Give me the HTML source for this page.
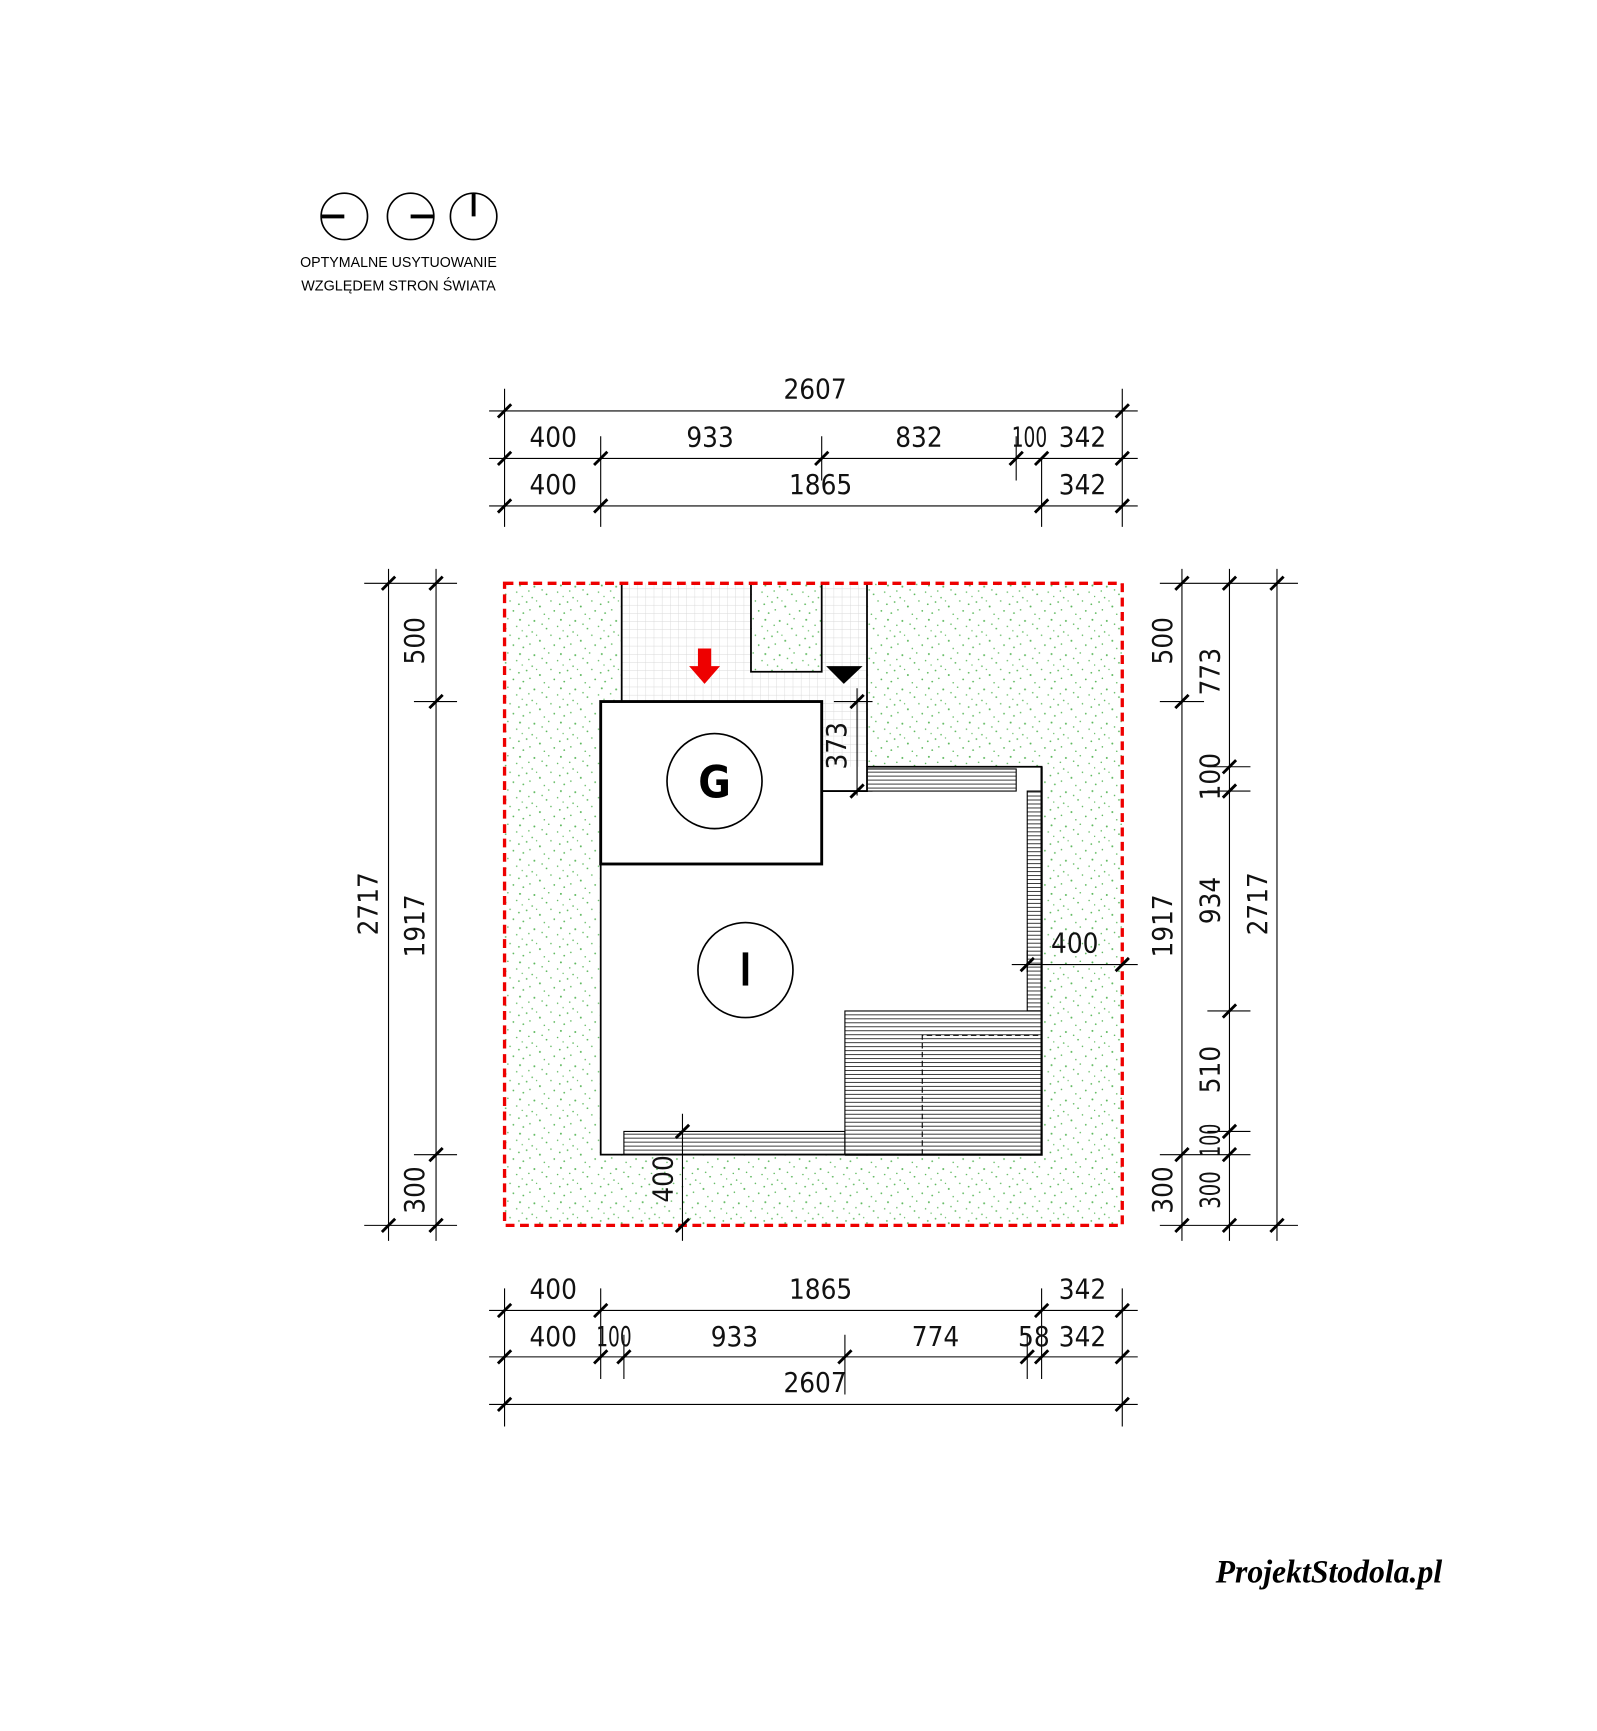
<!DOCTYPE html>
<html><head><meta charset="utf-8"><style>
html,body{margin:0;padding:0;background:#fff;}
svg{display:block;}
.d{font-family:"DejaVu Sans Condensed","Liberation Sans Narrow","Liberation Sans",sans-serif;font-size:25px;fill:#111;text-anchor:middle;}
</style></head><body>
<svg width="1597" height="1731" viewBox="0 0 1440 1561" preserveAspectRatio="none" xmlns="http://www.w3.org/2000/svg">
<defs>
<pattern id="sp" width="37" height="31" patternUnits="userSpaceOnUse">
<g fill="#5cb85c">
<circle cx="3" cy="4" r="0.9"/><circle cx="14" cy="11" r="0.8"/><circle cx="27" cy="3" r="0.9"/><circle cx="33" cy="18" r="0.8"/><circle cx="8" cy="22" r="0.9"/><circle cx="21" cy="26" r="0.8"/><circle cx="18" cy="17" r="0.7"/><circle cx="30" cy="28" r="0.8"/><circle cx="1" cy="14" r="0.7"/><circle cx="24" cy="9" r="0.7"/>
<circle cx="10" cy="7" r="0.7"/><circle cx="35" cy="8" r="0.7"/><circle cx="12" cy="29" r="0.7"/><circle cx="26" cy="20" r="0.8"/><circle cx="5" cy="17" r="0.6"/><circle cx="16" cy="2" r="0.7"/><circle cx="29" cy="13" r="0.6"/><circle cx="36" cy="25" r="0.7"/></g>
</pattern>
<pattern id="gr" width="7.4" height="7.4" patternUnits="userSpaceOnUse">
<path d="M0 0H7.4M0 0V7.4" stroke="#d8d8d8" stroke-width="0.8" fill="none"/></pattern>
<pattern id="hz" width="10" height="3.6" patternUnits="userSpaceOnUse">
<path d="M0 0.5H10" stroke="#222" stroke-width="0.8"/></pattern>
<g id="t"><line x1="-6" y1="6" x2="6" y2="-6" stroke="#000" stroke-width="2.6"/></g>
</defs>
<g transform="matrix(0.9964 0 0 0.9966 -0.4 -0.2)">
<!-- compass -->
<g stroke="#000" stroke-width="1.5" fill="#fff">
<circle cx="312" cy="196" r="21"/><circle cx="372" cy="196" r="21"/><circle cx="429" cy="196" r="21"/></g>
<g stroke="#000" stroke-width="3.5">
<line x1="291" y1="196" x2="312" y2="196"/><line x1="372" y1="196" x2="393" y2="196"/><line x1="429" y1="175" x2="429" y2="196"/></g>
<text x="361" y="242" style="font-family:'Liberation Sans',sans-serif;font-size:13px;text-anchor:middle" textLength="178" lengthAdjust="spacingAndGlyphs">OPTYMALNE USYTUOWANIE</text>
<text x="361" y="263" style="font-family:'Liberation Sans',sans-serif;font-size:13px;text-anchor:middle" textLength="176" lengthAdjust="spacingAndGlyphs">WZGLĘDEM STRON ŚWIATA</text>

<!-- site -->
<rect x="457" y="528" width="559" height="581" fill="url(#sp)"/>
<rect x="563" y="528" width="222" height="107" fill="#fff"/>
<rect x="744" y="635" width="41" height="81" fill="#fff"/>
<rect x="563" y="528" width="222" height="107" fill="url(#gr)"/>
<rect x="744" y="635" width="41" height="81" fill="url(#gr)"/>
<rect x="680" y="528" width="64" height="80" fill="#fff"/>
<rect x="680" y="528" width="64" height="80" fill="url(#sp)"/>
<rect x="544" y="694" width="399" height="351" fill="#fff"/>
<rect x="544" y="635" width="200" height="147" fill="#fff"/>
<rect x="744" y="716" width="41" height="30" fill="#fff"/>
<g stroke="#000" stroke-width="1.6" fill="none">
<path d="M563 528V635M680 528V608H744V528M785 528V694"/>
<path d="M544 782V1045H943V694H785V716H744"/>
</g>
<rect x="785" y="696" width="135" height="20" fill="url(#hz)" stroke="#000" stroke-width="1"/>
<rect x="930" y="716" width="13" height="199" fill="url(#hz)" stroke="#000" stroke-width="1"/>
<rect x="765" y="915" width="178" height="130" fill="url(#hz)" stroke="#000" stroke-width="1"/>
<rect x="565" y="1024" width="200" height="21" fill="url(#hz)" stroke="#000" stroke-width="1"/>
<path d="M835 1045V937H943" stroke="#000" stroke-width="1" stroke-dasharray="5,3" fill="none"/>
<path d="M765 1045H943V694" stroke="#000" stroke-width="2" fill="none"/>
<rect x="544" y="635" width="200" height="147" fill="none" stroke="#000" stroke-width="2.6"/>
<circle cx="647" cy="707" r="43" fill="#fff" stroke="#000" stroke-width="1.5"/>
<text x="647" y="722" style="font-family:'DejaVu Sans Condensed','Liberation Sans',sans-serif;font-size:40px;font-weight:bold;text-anchor:middle">G</text>
<circle cx="675" cy="878" r="43" fill="#fff" stroke="#000" stroke-width="1.5"/>
<line x1="675" y1="862" x2="675" y2="892" stroke="#000" stroke-width="5"/>
<path d="M632 587H644V603H652L638 619L624 603H632Z" fill="#e00"/>
<path d="M748 603H781L764 619Z" fill="#000"/>
<rect x="457" y="528" width="559" height="581" fill="none" stroke="#e00" stroke-width="3" stroke-dasharray="8,5"/>

<g stroke="#000" stroke-width="1" fill="none">
<path d="M443 372H1030M443 415H1030M443 458H1030"/>
<path d="M457 352V477M1016 352V477M544 395V477M744 395V435M920 395V435M943 415V477"/>
<path d="M443 1186H1030M443 1228H1030M443 1271H1030"/>
<path d="M457 1166V1291M1016 1166V1291M544 1166V1248M943 1166V1248M565 1208V1248M765 1208V1262M930 1208V1248"/>
<path d="M352 515V1123M395 515V1123M330 528H414M330 1109H414M375 635H414M375 1045H414"/>
<path d="M1070 515V1123M1113 515V1123M1156 515V1123M1050 528H1175M1050 1109H1175M1050 635H1090M1050 1045H1132M1093 694H1132M1093 716H1132M1093 915H1132M1093 1024H1132"/>
<path d="M916 873H1030M930 860V880"/>
<path d="M618 1008V1123"/>
<path d="M776 623V720M755 635H790M755 716H790"/>
</g>
<g>
<use href="#t" x="457" y="372"/><use href="#t" x="1016" y="372"/>
<use href="#t" x="457" y="415"/><use href="#t" x="544" y="415"/><use href="#t" x="744" y="415"/><use href="#t" x="920" y="415"/><use href="#t" x="943" y="415"/><use href="#t" x="1016" y="415"/>
<use href="#t" x="457" y="458"/><use href="#t" x="544" y="458"/><use href="#t" x="943" y="458"/><use href="#t" x="1016" y="458"/>
<use href="#t" x="457" y="1186"/><use href="#t" x="544" y="1186"/><use href="#t" x="943" y="1186"/><use href="#t" x="1016" y="1186"/>
<use href="#t" x="457" y="1228"/><use href="#t" x="544" y="1228"/><use href="#t" x="565" y="1228"/><use href="#t" x="765" y="1228"/><use href="#t" x="930" y="1228"/><use href="#t" x="943" y="1228"/><use href="#t" x="1016" y="1228"/>
<use href="#t" x="457" y="1271"/><use href="#t" x="1016" y="1271"/>
<use href="#t" x="352" y="528"/><use href="#t" x="352" y="1109"/>
<use href="#t" x="395" y="528"/><use href="#t" x="395" y="635"/><use href="#t" x="395" y="1045"/><use href="#t" x="395" y="1109"/>
<use href="#t" x="1070" y="528"/><use href="#t" x="1070" y="635"/><use href="#t" x="1070" y="1045"/><use href="#t" x="1070" y="1109"/>
<use href="#t" x="1113" y="528"/><use href="#t" x="1113" y="694"/><use href="#t" x="1113" y="716"/><use href="#t" x="1113" y="915"/><use href="#t" x="1113" y="1024"/><use href="#t" x="1113" y="1045"/><use href="#t" x="1113" y="1109"/>
<use href="#t" x="1156" y="528"/><use href="#t" x="1156" y="1109"/>
<use href="#t" x="930" y="873"/><use href="#t" x="1016" y="873"/>
<use href="#t" x="618" y="1024"/><use href="#t" x="618" y="1109"/>
<use href="#t" x="776" y="635"/><use href="#t" x="776" y="716"/>
</g>
<g class="d">
<text x="738" y="361">2607</text>
<text x="501" y="404">400</text><text x="643" y="404">933</text><text x="832" y="404">832</text><text x="932" y="404" textLength="32" lengthAdjust="spacingAndGlyphs">100</text><text x="980" y="404">342</text>
<text x="501" y="447">400</text><text x="743" y="447">1865</text><text x="980" y="447">342</text>
<text x="501" y="1175">400</text><text x="743" y="1175">1865</text><text x="980" y="1175">342</text>
<text x="501" y="1218">400</text><text x="556" y="1218" textLength="32" lengthAdjust="spacingAndGlyphs">100</text><text x="665" y="1218">933</text><text x="847" y="1218">774</text><text x="936" y="1218">58</text><text x="980" y="1218">342</text>
<text x="738" y="1260">2607</text>
<text x="973" y="862">400</text>
<text transform="translate(342,818) rotate(-90)">2717</text>
<text transform="translate(384,580) rotate(-90)">500</text>
<text transform="translate(384,838) rotate(-90)">1917</text>
<text transform="translate(384,1077) rotate(-90)">300</text>
<text transform="translate(1061,580) rotate(-90)">500</text>
<text transform="translate(1061,838) rotate(-90)">1917</text>
<text transform="translate(1061,1077) rotate(-90)">300</text>
<text transform="translate(1104,608) rotate(-90)">773</text>
<text transform="translate(1104,703) rotate(-90)">100</text>
<text transform="translate(1104,815) rotate(-90)">934</text>
<text transform="translate(1104,968) rotate(-90)">510</text>
<text transform="translate(1104,1032) rotate(-90)" textLength="30" lengthAdjust="spacingAndGlyphs">100</text>
<text transform="translate(1104,1077) rotate(-90)" textLength="34" lengthAdjust="spacingAndGlyphs">300</text>
<text transform="translate(1147,818) rotate(-90)">2717</text>
<text transform="translate(609,1067) rotate(-90)">400</text>
<text transform="translate(766,675) rotate(-90)">373</text>
</g>
<text x="1203" y="1432" style="font-family:'Liberation Serif',serif;font-style:italic;font-weight:bold;font-size:30px;text-anchor:middle" textLength="205" lengthAdjust="spacingAndGlyphs">ProjektStodola.pl</text>
</g>
</svg>
</body></html>
